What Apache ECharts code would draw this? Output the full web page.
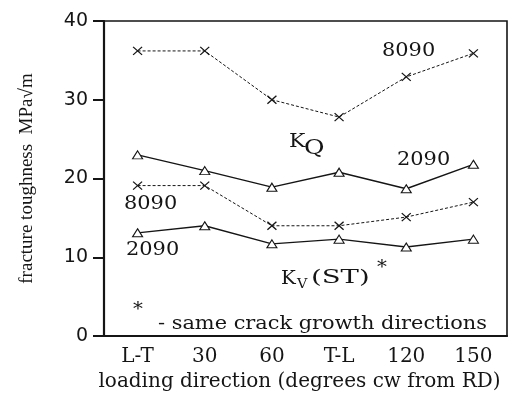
<!DOCTYPE html>
<html><head><meta charset="utf-8">
<script src="https://cdn.jsdelivr.net/npm/echarts@6/dist/echarts.min.js"></script>
<style>html,body{margin:0;padding:0;background:#fff}#c{width:519px;height:394px}</style>
</head><body><div id="c"></div>
<script>
const categories = ['L-T', '30', '60', 'T-L', '120', '150'];
const kq8090 = [36.2, 36.2, 30.0, 27.8, 32.9, 35.9];
const kq2090 = [23.0, 21.0, 18.9, 20.8, 18.7, 21.8];
const kv8090 = [19.1, 19.1, 14.0, 14.0, 15.1, 17.0];
const kv2090 = [13.1, 14.0, 11.7, 12.3, 11.3, 12.3];
const yTicks = [0, 10, 20, 30, 40];

const ink = '#151515';
const serif = 'DejaVu Serif';
const crossSym = 'path://M0,0L10,10M10,0L0,10';

function dashedSeries(name, data) {
  return {
    name, type: 'line', data, symbol: crossSym, symbolSize: [9, 8],
    lineStyle: { color: ink, width: 1, type: [3, 2] },
    itemStyle: { color: 'rgba(0,0,0,0)', borderColor: ink, borderWidth: 1.2 },
    z: 3
  };
}
function solidSeries(name, data) {
  return {
    name, type: 'line', data, symbol: 'triangle', symbolSize: [10, 8],
    lineStyle: { color: ink, width: 1.4 },
    itemStyle: { color: '#fff', borderColor: ink, borderWidth: 1.1 },
    z: 4
  };
}
function label(text, x, y, size, sx) {
  return { type: 'text', x, y, scaleX: sx || 1.1, z: 10,
    style: { text, x: 0, y: 0, font: size + 'px "DejaVu Serif"', fill: ink, textVerticalAlign: 'middle' } };
}

const chart = echarts.init(document.getElementById('c'), null, { renderer: 'canvas' });
chart.setOption({
  animation: false,
  backgroundColor: '#fff',
  grid: { left: 104, right: 12, top: 21, bottom: 58, containLabel: false, outerBoundsMode: 'none',
          show: true, borderColor: ink, borderWidth: 1.6, backgroundColor: 'transparent' },
  xAxis: {
    type: 'category', data: categories, boundaryGap: true,
    axisLine: { lineStyle: { color: ink, width: 2.2 } },
    axisTick: { alignWithLabel: true, length: 9, lineStyle: { color: ink, width: 2 } },
    axisLabel: { color: ink, fontFamily: serif, fontSize: 20, margin: 11 },
    splitLine: { show: false },
    name: 'loading direction (degrees cw from RD)', nameLocation: 'middle', nameGap: 36,
    nameTextStyle: { color: ink, fontFamily: serif, fontSize: 20, padding: [0, 12, 0, 0] }
  },
  yAxis: {
    type: 'value', min: yTicks[0], max: yTicks[yTicks.length - 1], interval: 10,
    axisLine: { show: true, lineStyle: { color: ink, width: 2.2 } },
    axisTick: { show: true, length: 11, lineStyle: { color: ink, width: 2 } },
    axisLabel: { color: ink, fontFamily: 'DejaVu Sans', fontSize: 19, margin: 16 },
    splitLine: { show: false },
    name: 'fracture toughness  MPa\u221Am', nameLocation: 'middle', nameGap: 67,
    nameTextStyle: { color: ink, fontFamily: 'Liberation Serif', fontSize: 19 }
  },
  series: [
    dashedSeries('KQ 8090', kq8090),
    solidSeries('KQ 2090', kq2090),
    dashedSeries('KV 8090', kv8090),
    solidSeries('KV 2090', kv2090)
  ],
  graphic: [
    label('8090', 382, 51, 19),
    label('2090', 397, 160, 19),
    label('8090', 124, 204, 19),
    label('2090', 126, 250, 19),
    label('K', 289, 142, 19, 1.15),
    label('Q', 304, 149, 20, 1.25),
    label('K', 281, 279, 18, 1.1),
    label('V', 297, 285, 13, 1.1),
    label('(ST)', 311, 278, 19, 1.45),
    label('*', 377, 268, 18, 1.1),
    label('*', 133, 310, 18, 1.1),
    label('- same crack growth directions', 158, 324, 18, 1.16)
  ]
});
</script></body></html>
